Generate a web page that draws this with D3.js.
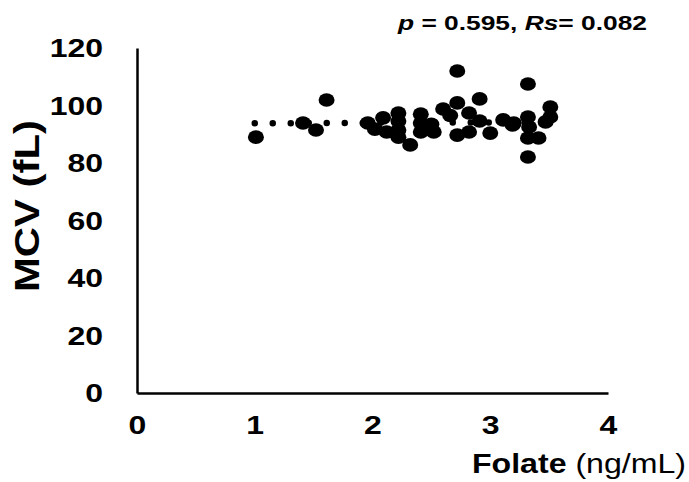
<!DOCTYPE html>
<html>
<head>
<meta charset="utf-8">
<script src="https://cdn.jsdelivr.net/npm/d3@7"></script>
<style>
  body { margin: 0; background: #fff; }
  text { font-family: "Liberation Sans", Arial, sans-serif; }
</style>
</head>
<body>
<div class="chart"></div>
<script>
// folate (ng/mL) vs MCV (fL)
var folate = [1.01, 1.41, 1.52, 1.61, 1.96, 2.02, 2.09, 2.22, 2.22, 2.22, 2.22, 2.2,
    2.32, 2.41, 2.41, 2.41, 2.52, 2.60, 2.72, 2.72, 2.72, 2.82, 2.82, 2.91,
    2.91, 3.00, 3.11, 3.19, 3.20, 3.32, 3.32, 3.33, 3.32, 3.32, 3.41, 3.51,
    3.51, 3.47, 2.12, 2.5, 2.66];
var mcv = [89.0, 93.9, 91.5, 101.9, 93.9, 91.8, 95.7, 97.4, 94.6, 91.5, 89.0, 90.4,
    86.3, 97.0, 93.9, 90.8, 90.8, 98.8, 112.0, 100.9, 89.7, 97.4, 90.8, 102.3,
    94.6, 90.4, 95.0, 93.2, 93.9, 107.5, 96.0, 92.5, 88.7, 82.1, 88.7, 99.5,
    96.0, 94.3, 90.8, 93.5, 96.5];

// dotted fit line ends
var fitX = [1.0, 3.5];
var fitY = [93.8, 94.2];

var xTicks = [0, 1, 2, 3, 4];
var yTicks = [0, 20, 40, 60, 80, 100, 120];
var stat = { p: "0.595", rs: "0.082" };

var W = 689, H = 482;
var margin = { top: 48, right: 81, bottom: 89, left: 137 };
var width = W - margin.left - margin.right,
    height = H - margin.top - margin.bottom;
var sx = 1.28; // text in the picture is a bit wide

var svg = d3.select(".chart").append("svg")
    .attr("width", W)
    .attr("height", H);

var g = svg.append("g")
    .attr("transform", "translate(" + margin.left + "," + margin.top + ")");

var x = d3.scaleLinear().domain([0, 4]).range([0, width]);
var y = d3.scaleLinear().domain([0, 120]).range([height, 0]);

// axes
var xAxis = g.append("g")
    .attr("transform", "translate(0," + height + ")")
    .call(d3.axisBottom(x).tickValues(xTicks).tickSize(0).tickPadding(0).tickFormat(d3.format("d")));
var yAxis = g.append("g")
    .call(d3.axisLeft(y).tickValues(yTicks).tickSize(0).tickPadding(0).tickFormat(d3.format("d")));

[xAxis, yAxis].forEach(function(a){
    a.select(".domain").attr("stroke", "#000").attr("stroke-width", 2.5);
    a.selectAll("text")
        .attr("fill", "#000")
        .style("font-size", "25px")
        .style("font-weight", "bold");
});

xAxis.selectAll("text")
    .attr("y", 0)
    .attr("dy", "0.35em")
    .attr("text-anchor", "middle")
    .attr("transform", "translate(0,32) scale(" + sx + ",1)");

yAxis.selectAll("text")
    .attr("x", 0)
    .attr("dy", "0.35em")
    .attr("text-anchor", "end")
    .attr("transform", "translate(-34,0) scale(" + sx + ",1)");

// fit line
g.append("line")
    .attr("x1", x(fitX[0])).attr("y1", y(fitY[0]))
    .attr("x2", x(fitX[1])).attr("y2", y(fitY[1]))
    .attr("stroke", "#000")
    .attr("stroke-width", 6.5)
    .attr("stroke-linecap", "round")
    .attr("stroke-dasharray", "0,18");

// points
g.selectAll("ellipse.pt")
    .data(folate)
    .enter().append("ellipse")
    .attr("class", "pt")
    .attr("cx", function(d){ return x(d); })
    .attr("cy", function(d, i){ return y(mcv[i]); })
    .attr("rx", 8)
    .attr("ry", 6.8)
    .attr("fill", "#000");

// titles
var ylab = svg.append("text")
    .attr("transform", "translate(39,206) rotate(-90)")
    .attr("text-anchor", "middle")
    .style("font-size", "35px")
    .style("font-weight", "bold")
    .attr("textLength", 172)
    .attr("lengthAdjust", "spacingAndGlyphs")
    .text("MCV (fL)");

var xlab = svg.append("text")
    .attr("x", 472)
    .attr("y", 473)
    .style("font-size", "27px")
    .attr("textLength", 214)
    .attr("lengthAdjust", "spacingAndGlyphs");
xlab.append("tspan").style("font-weight", "bold").text("Folate ");
xlab.append("tspan").text("(ng/mL)");

var st = svg.append("text")
    .attr("x", 398)
    .attr("y", 30)
    .style("font-size", "21px")
    .style("font-weight", "bold")
    .attr("textLength", 249)
    .attr("lengthAdjust", "spacingAndGlyphs");
st.append("tspan").style("font-style", "italic").text("p");
st.append("tspan").text(" = " + stat.p + ", ");
st.append("tspan").style("font-style", "italic").text("Rs");
st.append("tspan").text("= " + stat.rs);
</script>
</body>
</html>
